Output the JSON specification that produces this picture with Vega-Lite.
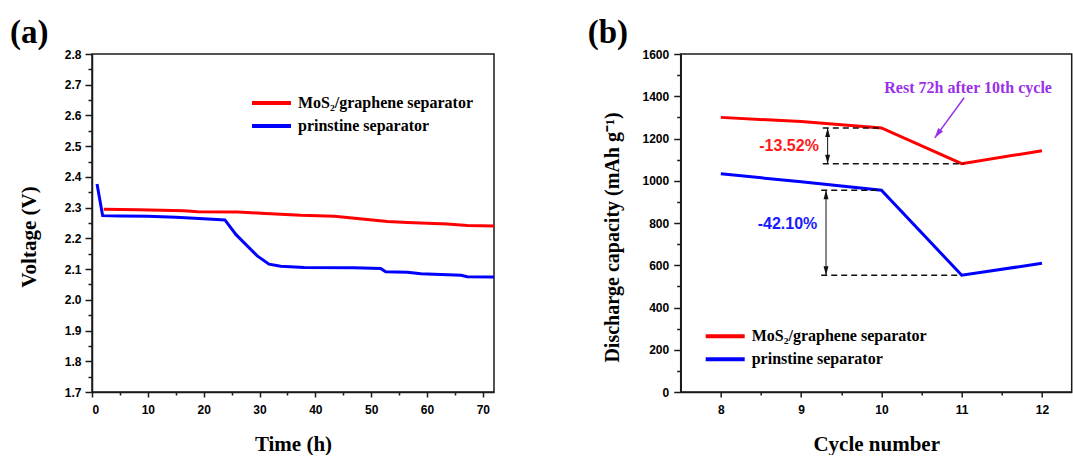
{
  "$schema": "https://vega.github.io/schema/vega-lite/v6.json",
  "background": "white",
  "padding": {"left": 9, "top": 16, "right": 0, "bottom": 0},
  "config": {
    "view": {"stroke": "#1a1a1a", "strokeWidth": 1.5},
    "axis": {
      "grid": false,
      "domainColor": "#1a1a1a",
      "domainWidth": 1.5,
      "tickColor": "#1a1a1a",
      "tickWidth": 1.5,
      "labelFont": "Liberation Sans",
      "labelFontWeight": 700,
      "labelFontSize": 12,
      "labelColor": "#000000",
      "titleFont": "Liberation Serif",
      "titleFontWeight": "bold",
      "titleFontSize": 21,
      "titleColor": "#000000"
    },
    "legend": {
      "orient": "none",
      "padding": 0,
      "symbolType": "stroke",
      "symbolSize": 1521,
      "symbolStrokeWidth": 4,
      "clipHeight": 15,
      "rowPadding": 6,
      "labelOffset": 5,
      "labelFont": "Liberation Serif",
      "labelFontWeight": "bold",
      "labelFontSize": 16,
      "labelColor": "#000000",
      "labelLimit": 0
    },
    "title": {
      "font": "Liberation Serif",
      "fontWeight": "bold",
      "fontSize": 33,
      "color": "#000000",
      "anchor": "start",
      "frame": "group",
      "baseline": "alphabetic",
      "offset": -2
    }
  },
  "datasets": {
    "voltage": [
      {"separator": "prinstine separator", "time_h": 0.9, "voltage_v": 2.377},
      {"separator": "prinstine separator", "time_h": 1.9, "voltage_v": 2.274},
      {"separator": "prinstine separator", "time_h": 5, "voltage_v": 2.273},
      {"separator": "prinstine separator", "time_h": 10, "voltage_v": 2.272},
      {"separator": "prinstine separator", "time_h": 15, "voltage_v": 2.269},
      {"separator": "prinstine separator", "time_h": 20, "voltage_v": 2.264},
      {"separator": "prinstine separator", "time_h": 23.8, "voltage_v": 2.26},
      {"separator": "prinstine separator", "time_h": 25.8, "voltage_v": 2.212},
      {"separator": "prinstine separator", "time_h": 27.4, "voltage_v": 2.183},
      {"separator": "prinstine separator", "time_h": 29.6, "voltage_v": 2.143},
      {"separator": "prinstine separator", "time_h": 31.7, "voltage_v": 2.116},
      {"separator": "prinstine separator", "time_h": 33.8, "voltage_v": 2.109},
      {"separator": "prinstine separator", "time_h": 38, "voltage_v": 2.105},
      {"separator": "prinstine separator", "time_h": 46.9, "voltage_v": 2.104},
      {"separator": "prinstine separator", "time_h": 51.7, "voltage_v": 2.102},
      {"separator": "prinstine separator", "time_h": 52.6, "voltage_v": 2.091},
      {"separator": "prinstine separator", "time_h": 56.5, "voltage_v": 2.09},
      {"separator": "prinstine separator", "time_h": 58.9, "voltage_v": 2.085},
      {"separator": "prinstine separator", "time_h": 62.5, "voltage_v": 2.082},
      {"separator": "prinstine separator", "time_h": 66.1, "voltage_v": 2.08},
      {"separator": "prinstine separator", "time_h": 67.2, "voltage_v": 2.075},
      {"separator": "prinstine separator", "time_h": 72, "voltage_v": 2.074},
      {"separator": "MoS₂/graphene separator", "time_h": 2.1, "voltage_v": 2.295},
      {"separator": "MoS₂/graphene separator", "time_h": 8.2, "voltage_v": 2.293},
      {"separator": "MoS₂/graphene separator", "time_h": 16.5, "voltage_v": 2.29},
      {"separator": "MoS₂/graphene separator", "time_h": 18.9, "voltage_v": 2.287},
      {"separator": "MoS₂/graphene separator", "time_h": 26.1, "voltage_v": 2.286},
      {"separator": "MoS₂/graphene separator", "time_h": 30.2, "voltage_v": 2.282},
      {"separator": "MoS₂/graphene separator", "time_h": 37.4, "voltage_v": 2.275},
      {"separator": "MoS₂/graphene separator", "time_h": 43.4, "voltage_v": 2.272},
      {"separator": "MoS₂/graphene separator", "time_h": 45.7, "voltage_v": 2.268},
      {"separator": "MoS₂/graphene separator", "time_h": 52.9, "voltage_v": 2.255},
      {"separator": "MoS₂/graphene separator", "time_h": 56.5, "voltage_v": 2.252},
      {"separator": "MoS₂/graphene separator", "time_h": 63.6, "voltage_v": 2.247},
      {"separator": "MoS₂/graphene separator", "time_h": 67.2, "voltage_v": 2.242},
      {"separator": "MoS₂/graphene separator", "time_h": 72, "voltage_v": 2.24}
    ],
    "capacity": [
      {"separator": "MoS₂/graphene separator", "cycle": 8, "capacity": 1300},
      {"separator": "MoS₂/graphene separator", "cycle": 9, "capacity": 1280},
      {"separator": "MoS₂/graphene separator", "cycle": 10, "capacity": 1250},
      {"separator": "MoS₂/graphene separator", "cycle": 11, "capacity": 1081},
      {"separator": "MoS₂/graphene separator", "cycle": 12, "capacity": 1142},
      {"separator": "prinstine separator", "cycle": 8, "capacity": 1033},
      {"separator": "prinstine separator", "cycle": 9, "capacity": 995},
      {"separator": "prinstine separator", "cycle": 10, "capacity": 955},
      {"separator": "prinstine separator", "cycle": 11, "capacity": 553},
      {"separator": "prinstine separator", "cycle": 12, "capacity": 609}
    ],
    "drops": [
      {"separator": "MoS₂/graphene separator", "from": 9.27, "before": 10, "after": 11.03, "high": 1250, "low": 1081, "arrow_x": 9.33, "change": "-13.52%", "label_cycle": 8.85, "label_cap": 1165},
      {"separator": "prinstine separator", "from": 9.25, "before": 10, "after": 11.0, "high": 955, "low": 553, "arrow_x": 9.31, "change": "-42.10%", "label_cycle": 8.83, "label_cap": 794}
    ],
    "rest_note": [
      {"note": "Rest 72h after 10th cycle", "note_cycle": 11.08, "note_cap": 1440, "from_cycle": 11.03, "from_cap": 1393, "to_cycle": 10.665, "to_cap": 1203}
    ]
  },
  "bounds": "flush",
  "spacing": 186.7,
  "resolve": {
    "scale": {"x": "independent", "y": "independent", "color": "independent"},
    "legend": {"color": "independent"}
  },
  "hconcat": [
    {
      "width": 402,
      "height": 338,
      "title": {"text": "(a)", "dx": -82},
      "data": {"name": "voltage"},
      "layer": [
        {
          "mark": {"type": "line", "strokeWidth": 3},
          "encoding": {
            "x": {
              "field": "time_h", "type": "quantitative",
              "scale": {"domain": [0, 72], "nice": false, "zero": false},
              "axis": {"title": "Time (h)", "values": [0, 10, 20, 30, 40, 50, 60, 70], "tickSize": 5, "labelPadding": 7, "labelFontWeight": 700, "titleY": 58, "titleBaseline": "alphabetic"}
            },
            "y": {
              "field": "voltage_v", "type": "quantitative",
              "scale": {"domain": [1.7, 2.8], "nice": false, "zero": false},
              "axis": {"title": "Voltage (V)", "values": [1.7, 1.8, 1.9, 2.0, 2.1, 2.2, 2.3, 2.4, 2.5, 2.6, 2.7, 2.8], "format": ".1f", "tickSize": 7, "labelPadding": 4, "labelFontWeight": 700, "titleX": -56.8, "titleY": 182.5, "titleBaseline": "alphabetic"}
            },
            "color": {
              "field": "separator", "type": "nominal",
              "scale": {"domain": ["MoS₂/graphene separator", "prinstine separator"], "range": ["#ff0000", "#0000ff"]},
              "legend": {"title": null, "legendX": 158, "legendY": 41.5}
            }
          }
        },
        {
          "mark": {"type": "point", "opacity": 0},
          "encoding": {
            "x": {"field": "time_h", "type": "quantitative", "axis": {"orient": "bottom", "values": [5, 15, 25, 35, 45, 55, 65], "labels": false, "domain": false, "tickSize": 3, "title": null}},
            "y": {"field": "voltage_v", "type": "quantitative", "axis": {"orient": "left", "values": [1.75, 1.85, 1.95, 2.05, 2.15, 2.25, 2.35, 2.45, 2.55, 2.65, 2.75], "labels": false, "domain": false, "tickSize": 4, "title": null}}
          }
        }
      ],
      "resolve": {"axis": {"x": "independent", "y": "independent"}}
    },
    {
      "width": 391,
      "height": 338,
      "title": {"text": "(b)", "dx": -93},
      "layer": [
        {
          "data": {"name": "capacity"},
          "mark": {"type": "line", "strokeWidth": 3},
          "encoding": {
            "x": {
              "field": "cycle", "type": "quantitative",
              "scale": {"domain": [7.5, 12.37], "nice": false, "zero": false},
              "axis": {"title": "Cycle number", "values": [8, 9, 10, 11, 12], "format": "d", "tickSize": 5, "labelPadding": 7, "labelFontWeight": 700, "titleY": 58, "titleBaseline": "alphabetic"}
            },
            "y": {
              "field": "capacity", "type": "quantitative",
              "scale": {"domain": [0, 1600], "nice": false},
              "axis": {"title": "Discharge capacity (mAh g⁻¹)", "values": [0, 200, 400, 600, 800, 1000, 1200, 1400, 1600], "format": "d", "tickSize": 7, "labelPadding": 5, "labelFontWeight": 700, "titleFontSize": 20, "titleX": -62.3, "titleY": 183, "titleBaseline": "alphabetic"}
            },
            "color": {
              "field": "separator", "type": "nominal",
              "scale": {"domain": ["MoS₂/graphene separator", "prinstine separator"], "range": ["#ff0000", "#0000ff"]},
              "legend": {"title": null, "legendX": 23, "legendY": 274.8}
            }
          }
        },
        {
          "data": {"name": "drops"},
          "mark": {"type": "rule", "color": "#111111", "strokeWidth": 1.5, "strokeDash": [6, 4]},
          "encoding": {
            "x": {"field": "from", "type": "quantitative", "axis": null},
            "x2": {"field": "before"},
            "y": {"field": "high", "type": "quantitative", "axis": null}
          }
        },
        {
          "data": {"name": "drops"},
          "mark": {"type": "rule", "color": "#111111", "strokeWidth": 1.5, "strokeDash": [6, 4]},
          "encoding": {
            "x": {"field": "from", "type": "quantitative", "axis": null},
            "x2": {"field": "after"},
            "y": {"field": "low", "type": "quantitative", "axis": null}
          }
        },
        {
          "data": {"name": "drops"},
          "mark": {"type": "rule", "color": "#111111", "strokeWidth": 1},
          "encoding": {
            "x": {"field": "arrow_x", "type": "quantitative", "axis": null},
            "y": {"field": "high", "type": "quantitative", "axis": null},
            "y2": {"field": "low"}
          }
        },
        {
          "data": {"name": "drops"},
          "mark": {"type": "point", "shape": "M0,-1L0.55,1L-0.55,1Z", "filled": true, "color": "#111111", "opacity": 1, "size": 81, "yOffset": 4.5},
          "encoding": {
            "x": {"field": "arrow_x", "type": "quantitative", "axis": null},
            "y": {"field": "high", "type": "quantitative", "axis": null}
          }
        },
        {
          "data": {"name": "drops"},
          "mark": {"type": "point", "shape": "M0,-1L0.55,1L-0.55,1Z", "filled": true, "color": "#111111", "opacity": 1, "size": 81, "angle": 180, "yOffset": -4.5},
          "encoding": {
            "x": {"field": "arrow_x", "type": "quantitative", "axis": null},
            "y": {"field": "low", "type": "quantitative", "axis": null}
          }
        },
        {
          "data": {"name": "drops"},
          "transform": [{"filter": "datum.separator === 'MoS₂/graphene separator'"}],
          "mark": {"type": "text", "font": "Liberation Sans", "fontWeight": "bold", "fontSize": 16, "color": "#ff1a1a", "align": "center", "baseline": "middle"},
          "encoding": {
            "x": {"field": "label_cycle", "type": "quantitative", "axis": null},
            "y": {"field": "label_cap", "type": "quantitative", "axis": null},
            "text": {"field": "change"}
          }
        },
        {
          "data": {"name": "drops"},
          "transform": [{"filter": "datum.separator === 'prinstine separator'"}],
          "mark": {"type": "text", "font": "Liberation Sans", "fontWeight": "bold", "fontSize": 16, "color": "#1a1aff", "align": "center", "baseline": "middle"},
          "encoding": {
            "x": {"field": "label_cycle", "type": "quantitative", "axis": null},
            "y": {"field": "label_cap", "type": "quantitative", "axis": null},
            "text": {"field": "change"}
          }
        },
        {
          "data": {"name": "rest_note"},
          "mark": {"type": "rule", "color": "#9a30e8", "strokeWidth": 1.5},
          "encoding": {
            "x": {"field": "from_cycle", "type": "quantitative", "axis": null},
            "x2": {"field": "to_cycle"},
            "y": {"field": "from_cap", "type": "quantitative", "axis": null},
            "y2": {"field": "to_cap"}
          }
        },
        {
          "data": {"name": "rest_note"},
          "mark": {"type": "point", "shape": "M0,-1L0.6,1L-0.6,1Z", "filled": true, "color": "#9a30e8", "opacity": 1, "size": 100, "angle": 215.9, "xOffset": 2.9, "yOffset": -4.05},
          "encoding": {
            "x": {"field": "to_cycle", "type": "quantitative", "axis": null},
            "y": {"field": "to_cap", "type": "quantitative", "axis": null}
          }
        },
        {
          "data": {"name": "rest_note"},
          "mark": {"type": "text", "font": "Liberation Serif", "fontWeight": "bold", "fontSize": 16, "color": "#9a30e8", "align": "center", "baseline": "middle"},
          "encoding": {
            "x": {"field": "note_cycle", "type": "quantitative", "axis": null},
            "y": {"field": "note_cap", "type": "quantitative", "axis": null},
            "text": {"field": "note"}
          }
        },
        {
          "data": {"name": "capacity"},
          "mark": {"type": "point", "opacity": 0},
          "encoding": {
            "x": {"field": "cycle", "type": "quantitative", "axis": {"orient": "bottom", "values": [8.5, 9.5, 10.5, 11.5], "labels": false, "domain": false, "tickSize": 3, "title": null}},
            "y": {"field": "capacity", "type": "quantitative", "axis": {"orient": "left", "values": [100, 300, 500, 700, 900, 1100, 1300, 1500], "labels": false, "domain": false, "tickSize": 4, "title": null}}
          }
        }
      ],
      "resolve": {"axis": {"x": "independent", "y": "independent"}}
    }
  ]
}
